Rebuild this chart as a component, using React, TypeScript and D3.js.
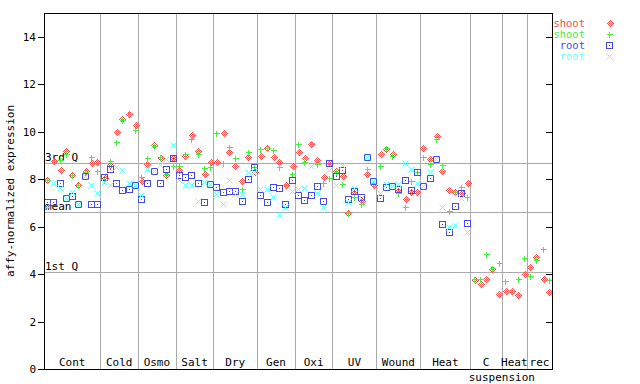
import * as d3 from "d3";

// sample groups along the x axis (label, number of samples)
const groupNames = ["Cont", "Cold", "Osmo", "Salt", "Dry", "Gen", "Oxi", "UV", "Wound", "Heat", "C", "Heat", "rec"];
const groupSizes = [9, 6, 6, 6, 7, 6, 6, 7, 7, 8, 5, 4, 4];

// expression values per sample (81 samples)
const shootRed = [
  7.96, 8.75, 8.39, 9.19, 8.18, 7.75, 8.36, 8.67, 8.71,
  8.06, 8.6, 9.97, 10.54, 10.75, 10.28,
  7.92, 8.63, 9.44, 8.88, 8.18, 8.9,
  8.39, 8.98, 9.86, 9.19, 8.2, 8.74,
  8.71, 9.93, 9.13, 8.57, 7.94, 8.92, 8.32,
  8.98, 9.3, 8.92, 8.71, 7.75, 8.55,
  9.16, 8.88, 9.47, 8.81, 8.08, 8.67,
  8.36, 8.13, 6.59, 7.5, 7.09, 8.2, 7.74,
  9.05, 9.26, 9.06, 7.5, 7.15, 7.45, 7.45,
  9.3, 8.84, 9.82, 8.36, 7.53, 7.46, 7.4, 7.83,
  3.74, 3.6, 3.78, 4.2, 3.15,
  3.27, 3.27, 3.1, 3.99,
  4.3, 4.72, 3.78, 3.23,
];
const shootGreen = [
  7.96, 8.77, 8.81, 9.05, 8.18, 7.75, 8.32, 8.92, 8.34,
  7.96, 8.77, 9.58, 10.49, 10.8, 10.07,
  8.1, 8.88, 9.41, 8.93, 8.22, 8.57,
  8.57, 9.05, 9.68, 9.05, 8.48, 8.53,
  9.93, 8.67, 9.37, 8.88, 7.57, 9.13, 8.5,
  9.27, 9.3, 9.23, 8.53, 7.75, 8.2,
  9.47, 8.74, 9.51, 8.63, 7.83, 8.04,
  8.3, 7.8, 6.59, 7.24, 6.94, 8.41, 7.85,
  8.55, 9.33, 8.99, 7.4, 6.81, 7.92, 8.32,
  8.95, 8.64, 9.68, 8.6, 6.66, 7.46, 7.66, 7.24,
  3.78, 3.78, 4.86, 4.26, 4.47,
  3.69, 3.27, 3.78, 4.68,
  3.92, 4.58, 5.04, 3.74,
];
const rootBlue = [
  7.02, 7.05, 7.83, 7.19, 7.29, 6.94, 8.13, 6.95, 6.95,
  8.08, 8.43, 7.83, 7.54, 7.59, 7.75,
  7.15, 7.83, 8.34, 7.83, 8.43, 8.88,
  8.18, 8.08, 8.16, 7.83, 7.02, 7.8,
  7.66, 7.45, 7.49, 7.49, 7.07, 7.99, 8.5,
  7.33, 7.02, 7.66, 7.61, 6.94, 7.95,
  7.33, 7.11, 7.33, 7.71, 7.08, 8.67,
  8.13, 8.39, 7.15, 7.5, 7.26, 8.95, 7.92,
  7.19, 7.66, 7.7, 7.57, 7.95, 7.54, 8.32,
  7.71, 8.04, 8.85, 6.1, 5.76, 6.86, 7.4, 6.14,
  null, null, null, null, null,
  null, null, null, null,
  null, null, null, null,
];
const rootCyan = [
  6.85, 7.83, 7.61, 7.19, 7.45, 6.94, 8.13, 7.75, 7.4,
  7.9, 7.75, 8.53, 8.39, 7.83, 7.75,
  7.33, 8.41, 8.34, 8.6, 8.85, 9.44,
  7.96, 7.74, 7.74, 7.07, 7.87, 7.8,
  7.36, 6.97, 7.95, 7.36, 7.36, 8.32, 8.3,
  7.57, 7.57, 7.24, 6.49, 6.83, 7.5,
  7.6, 7.61, 8.55, 7.4, 6.81, 8.39,
  7.75, 8.6, 7.05, 7.64, 7.2, 8.95, 7.92,
  7.4, 7.8, 7.7, 7.8, 8.67, 8.41, 7.83,
  7.71, 8.29, 8.85, 6.84, 6.0, 6.06, 7.19, 5.79,
  null, null, null, null, null,
  null, null, null, null,
  null, null, null, null,
];

const statLabels = ["3rd Q", "mean", "1st Q"];
const statValues = [8.69, 6.62, 4.09];
const yTicks = [0, 2, 4, 6, 8, 10, 12, 14];
const legendLabels = ["shoot", "shoot", "root", "root"];

const FONT = "'DejaVu Sans Mono', monospace";
const RED = "#ff4848";
const GREEN = "#44ee44";
const BLUE = "#4848f0";
const CYAN = "#66ffff";
const GRID = "#aaaaaa";

const W = 640;
const H = 384;
const left = 44;
const right = 552;
const top = 13;
const bottom = 369;

type Kind = "diamond" | "plus" | "square" | "cross";

function Marker({ kind, x, y }: { kind: Kind; x: number; y: number }) {
  const cx = Math.round(x) + 0.5;
  const cy = Math.round(y) + 0.5;
  const r = 3;
  if (kind === "diamond") {
    // checkered diamond like the original bitmap marker
    const d = 4;
    return (
      <path
        d={`M${cx},${cy - d}L${cx + d},${cy}L${cx},${cy + d}L${cx - d},${cy}Z`}
        fill="url(#checker)"
        shapeRendering="crispEdges"
      />
    );
  }
  if (kind === "plus") {
    return (
      <path
        d={`M${cx - r},${cy}H${cx + r}M${cx},${cy - r}V${cy + r}`}
        stroke={GREEN}
        strokeWidth={1.3}
        shapeRendering="crispEdges"
      />
    );
  }
  if (kind === "square") {
    return (
      <g shapeRendering="crispEdges">
        <rect x={cx - r} y={cy - r} width={2 * r} height={2 * r} fill="none" stroke={BLUE} strokeWidth={1.3} />
        <rect x={cx - 0.5} y={cy - 0.5} width={1} height={1} fill={BLUE} />
      </g>
    );
  }
  return (
    <path
      d={`M${cx - r},${cy - r}L${cx + r},${cy + r}M${cx - r},${cy + r}L${cx + r},${cy - r}`}
      stroke={CYAN}
      strokeWidth={1}
    />
  );
}

export default function App() {
  const total = d3.sum(groupSizes);
  const x = d3.scaleLinear().domain([0, total]).range([left, right]);
  const y = d3.scaleLinear().domain([0, 15]).range([bottom, top]);

  const bounds = Array.from(d3.cumsum(groupSizes));
  const starts = [0, ...bounds.slice(0, -1)];

  const series: { values: (number | null)[]; kind: Kind; color: string }[] = [
    { values: shootRed, kind: "diamond", color: RED },
    { values: shootGreen, kind: "plus", color: GREEN },
    { values: rootBlue, kind: "square", color: BLUE },
    { values: rootCyan, kind: "cross", color: CYAN },
  ];

  return (
    <svg width={W} height={H} style={{ position: "absolute", left: 0, top: 0, background: "#fff" }}>
      <defs>
        <pattern id="checker" width={2} height={2} patternUnits="userSpaceOnUse">
          <rect x={0} y={0} width={1} height={1} fill={RED} />
          <rect x={1} y={1} width={1} height={1} fill={RED} />
        </pattern>
      </defs>
      <rect width={W} height={H} fill="#fff" />

      {/* group separators */}
      {bounds.slice(0, -1).map((b, i) => (
        <line key={"sep" + i} x1={Math.round(x(b)) + 0.5} x2={Math.round(x(b)) + 0.5} y1={top} y2={bottom}
          stroke={GRID} strokeWidth={1} shapeRendering="crispEdges" />
      ))}

      {/* stat lines */}
      {statValues.map((v, i) => (
        <g key={"st" + i}>
          <line x1={left} x2={right} y1={Math.round(y(v)) + 0.5} y2={Math.round(y(v)) + 0.5}
            stroke={GRID} strokeWidth={1} shapeRendering="crispEdges" />
          <text x={left + 1} y={y(v) - 1.5} fontFamily={FONT} fontSize={11} fill="#000">{statLabels[i]}</text>
        </g>
      ))}

      {/* group labels */}
      {groupNames.map((g, i) => (
        <text key={"g" + i} x={x(starts[i] + groupSizes[i] / 2)} y={366} textAnchor="middle"
          fontFamily={FONT} fontSize={11} fill="#000">{g}</text>
      ))}
      <text x={x(starts[11])} y={381} textAnchor="middle" fontFamily={FONT} fontSize={11} fill="#000">suspension</text>

      {/* points */}
      {series.map((s, si) => (
        <g key={"s" + si}>
          {s.values.map((v, i) =>
            v == null ? null : <Marker key={i} kind={s.kind} x={x(i + 0.5)} y={y(v)} />
          )}
        </g>
      ))}

      {/* frame */}
      <rect x={left + 0.5} y={top + 0.5} width={right - left} height={bottom - top} fill="none"
        stroke="#000" strokeWidth={1} shapeRendering="crispEdges" />

      {/* y ticks */}
      {yTicks.map((t) => (
        <g key={"t" + t} shapeRendering="crispEdges">
          <line x1={left - 6} x2={left} y1={Math.round(y(t)) + 0.5} y2={Math.round(y(t)) + 0.5} stroke="#000" />
          <line x1={right - 6} x2={right} y1={Math.round(y(t)) + 0.5} y2={Math.round(y(t)) + 0.5} stroke="#000" />
          <text x={36} y={y(t) + 4} textAnchor="end" fontFamily={FONT} fontSize={11} fill="#000">{t}</text>
        </g>
      ))}

      <text transform={`translate(14,${(top + bottom) / 2}) rotate(-90)`} textAnchor="middle"
        fontFamily={FONT} fontSize={11} fill="#000">affy-normalized expression</text>

      {/* legend */}
      {series.map((s, i) => (
        <g key={"l" + i}>
          <text x={585} y={27 + i * 11} textAnchor="end" fontFamily={FONT} fontSize={10.5} fill={s.color}>
            {legendLabels[i]}
          </text>
          <Marker kind={s.kind} x={609} y={23 + i * 11} />
        </g>
      ))}
    </svg>
  );
}
